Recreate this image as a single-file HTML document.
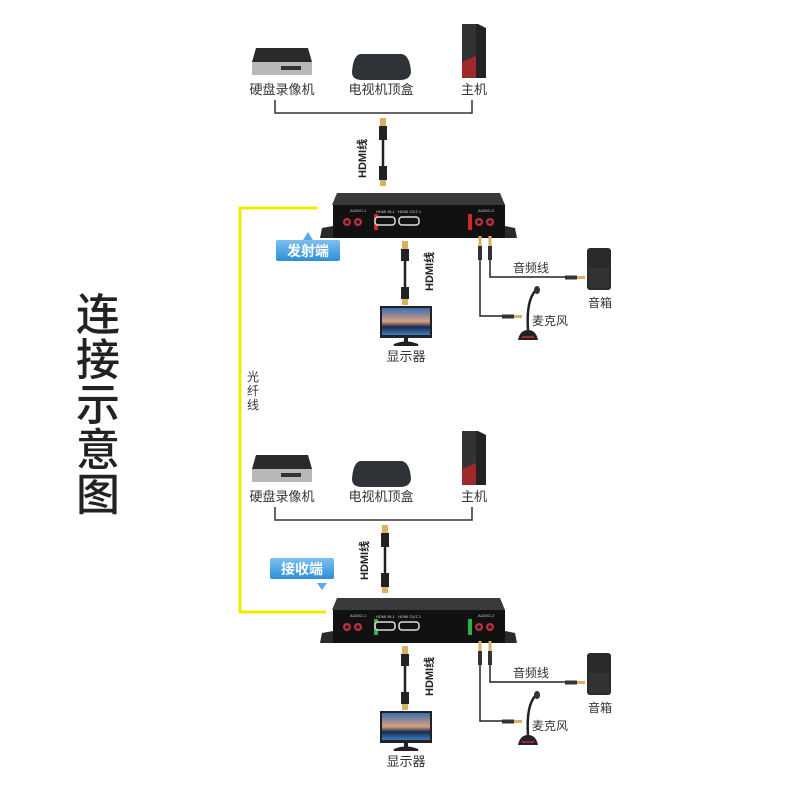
<!DOCTYPE html>
<html><head><meta charset="utf-8"><style>
html,body{margin:0;padding:0;background:#fff;}
svg{display:block;}
text{font-family:"Liberation Sans","Noto Sans CJK SC",sans-serif;}
</style></head><body>
<svg width="800" height="800" viewBox="0 0 800 800" xmlns="http://www.w3.org/2000/svg">
<defs>
<linearGradient id="btn" x1="0" y1="0" x2="0" y2="1"><stop offset="0" stop-color="#7cc0ef"/><stop offset="1" stop-color="#2d8fd8"/></linearGradient>
<linearGradient id="scr" x1="0" y1="0" x2="0" y2="1"><stop offset="0" stop-color="#3a6fb0"/><stop offset="0.5" stop-color="#d8a080"/><stop offset="0.7" stop-color="#1a2a50"/><stop offset="1" stop-color="#3a80c0"/></linearGradient>
<g id="src">
  <path d="M256 48 L308 48 L312 62 L252 62 Z" fill="#2a2a2a"/>
  <rect x="252" y="62" width="60" height="13" fill="#b8b8b8"/>
  <rect x="281" y="66" width="20" height="4" fill="#333"/>
  <path d="M360 54 L402 54 Q410 56 411 72 Q410 80 400 80 L362 80 Q352 80 352 72 Q353 56 360 54Z" fill="#2f3337"/>
  <path d="M462 24 L478 24 L486 28 L486 78 L462 78 Z" fill="#222"/>
  <rect x="462" y="24" width="14" height="54" fill="#333"/>
  <path d="M462 62 L476 56 L476 78 L462 78Z" fill="#a02828"/>
  <text x="282" y="94" font-size="13" text-anchor="middle" fill="#333">硬盘录像机</text>
  <text x="381" y="94" font-size="13" text-anchor="middle" fill="#333">电视机顶盒</text>
  <text x="474" y="94" font-size="13" text-anchor="middle" fill="#333">主机</text>
  <path d="M275 100 V113 H472 V100" fill="none" stroke="#333" stroke-width="1.5"/>
</g>
<g id="dev">
  <path d="M337 193 L500 193 L505 205 L332 205 Z" fill="#3a3a3a"/>
  <rect x="333" y="205" width="172" height="33" fill="#111"/>
  <path d="M322 228 L333 226 L333 238 L320 238Z M505 226 L515 228 L517 238 L505 238Z" fill="#2a2a2a"/>
  <circle cx="347" cy="222" r="4" fill="#c03040"/><circle cx="358" cy="222" r="4" fill="#c03040"/>
  <circle cx="347" cy="222" r="1.8" fill="#111"/><circle cx="358" cy="222" r="1.8" fill="#111"/>
  <rect x="374" y="214" width="4" height="16" fill="var(--led)"/>
  <rect x="468" y="214" width="4" height="16" fill="var(--led)"/>
  <rect x="375" y="217" width="20" height="8" rx="3" fill="#111" stroke="#ddd" stroke-width="1.5"/>
  <rect x="399" y="217" width="20" height="8" rx="3" fill="#111" stroke="#ddd" stroke-width="1.5"/>
  <circle cx="479" cy="222" r="4" fill="#c03040"/><circle cx="490" cy="222" r="4" fill="#c03040"/>
  <circle cx="479" cy="222" r="1.8" fill="#111"/><circle cx="490" cy="222" r="1.8" fill="#111"/>
  <text x="350" y="212" font-size="4" fill="#ccc">AUDIO-1</text>
  <text x="478" y="212" font-size="4" fill="#ccc">AUDIO-2</text>
  <text x="376" y="213" font-size="4" fill="#ccc">HDMI IN-1</text>
  <text x="398" y="213" font-size="4" fill="#ccc">HDMI OUT-1</text>
  <rect x="402" y="241" width="6" height="8" fill="#d8b060"/>
  <rect x="401" y="249" width="8" height="12" fill="#222"/>
  <line x1="405" y1="261" x2="405" y2="287" stroke="#222" stroke-width="2.5"/>
  <rect x="401" y="287" width="8" height="12" fill="#222"/>
  <rect x="402" y="299" width="6" height="6" fill="#d8b060"/>
  <text transform="translate(433,291) rotate(-90)" font-size="11" font-weight="bold" fill="#222">HDMI线</text>
  <rect x="380" y="306" width="52" height="32" fill="#222"/>
  <rect x="382" y="308" width="48" height="27" fill="url(#scr)"/>
  <path d="M404 338 L408 338 L408 343 L404 343Z" fill="#222"/>
  <path d="M394 345 Q406 340 418 345 Z" fill="#222" stroke="#222" stroke-width="2"/>
  <text x="406" y="361" font-size="13" text-anchor="middle" fill="#333">显示器</text>
  <g stroke="#222" fill="none" stroke-width="1.5">
    <path d="M480 258 V316 H510"/>
    <path d="M490 258 V277 H575"/>
  </g>
  <rect x="478.5" y="236" width="3" height="10" fill="#d8b060"/><rect x="478" y="246" width="4" height="14" fill="#333"/>
  <rect x="488.5" y="236" width="3" height="10" fill="#d8b060"/><rect x="488" y="246" width="4" height="14" fill="#333"/>
  <rect x="502" y="314.5" width="12" height="4" fill="#333"/><rect x="514" y="315" width="8" height="3" fill="#d8b060"/>
  <rect x="565" y="275.5" width="12" height="4" fill="#333"/><rect x="577" y="276" width="8" height="3" fill="#d8b060"/>
  <text x="531" y="272" font-size="12" text-anchor="middle" fill="#333">音频线</text>
  <path d="M536 290 Q526 300 528 330" stroke="#222" stroke-width="2.5" fill="none"/>
  <ellipse cx="537" cy="290" rx="3" ry="4" fill="#333"/>
  <path d="M518 340 Q520 330 528 330 Q536 330 538 340Z" fill="#222"/>
  <rect x="522" y="336" width="12" height="2" fill="#a02828"/>
  <text x="550" y="325" font-size="12" text-anchor="middle" fill="#333">麦克风</text>
  <rect x="587" y="248" width="24" height="42" rx="3" fill="#2a2a2a"/>
  <rect x="589" y="268" width="20" height="20" fill="#333"/>
  <text x="600" y="307" font-size="12" text-anchor="middle" fill="#333">音箱</text>
</g>
<g id="hdmiV">
  <rect x="380" y="0" width="6" height="8" fill="#d8b060"/>
  <rect x="379" y="8" width="8" height="14" fill="#222"/>
  <line x1="383" y1="22" x2="383" y2="48" stroke="#222" stroke-width="2.5"/>
  <rect x="379" y="48" width="8" height="14" fill="#222"/>
  <rect x="380" y="62" width="6" height="6" fill="#d8b060"/>
</g>
</defs>

<g font-size="44" font-weight="500" fill="#222" text-anchor="middle">
<text x="98" y="330" style="font-family:'Noto Sans CJK SC',sans-serif">连</text>
<text x="98" y="375" style="font-family:'Noto Sans CJK SC',sans-serif">接</text>
<text x="98" y="420" style="font-family:'Noto Sans CJK SC',sans-serif">示</text>
<text x="98" y="465" style="font-family:'Noto Sans CJK SC',sans-serif">意</text>
<text x="98" y="510" style="font-family:'Noto Sans CJK SC',sans-serif">图</text>
</g>

<path d="M317 208 H240 V612 H326" fill="none" stroke="#f5e800" stroke-width="3"/>
<g font-size="12" fill="#333" text-anchor="middle">
<text x="253" y="381">光</text><text x="253" y="395">纤</text><text x="253" y="409">线</text>
</g>

<use href="#src"/>
<use href="#hdmiV" transform="translate(0,118)"/>
<text transform="translate(366,178) rotate(-90)" font-size="11" font-weight="bold" fill="#222">HDMI线</text>
<g style="--led:#d02828"><use href="#dev"/></g>
<path d="M303 240 L308 232 L313 240Z" fill="#5aa8e8"/>
<rect x="276" y="240" width="64" height="21" rx="2" fill="url(#btn)"/>
<text x="308" y="256" font-size="14" font-weight="bold" text-anchor="middle" fill="#fff">发射端</text>

<use href="#src" transform="translate(0,407)"/>
<use href="#hdmiV" transform="translate(2,525)"/>
<text transform="translate(368,580) rotate(-90)" font-size="11" font-weight="bold" fill="#222">HDMI线</text>
<g style="--led:#30b040" transform="translate(0,405)"><use href="#dev"/></g>
<rect x="270" y="558" width="64" height="21" rx="2" fill="url(#btn)"/>
<text x="302" y="574" font-size="14" font-weight="bold" text-anchor="middle" fill="#fff">接收端</text>
<path d="M317 583 L322 590 L327 583Z" fill="#5aa8e8"/>
</svg>
</body></html>
